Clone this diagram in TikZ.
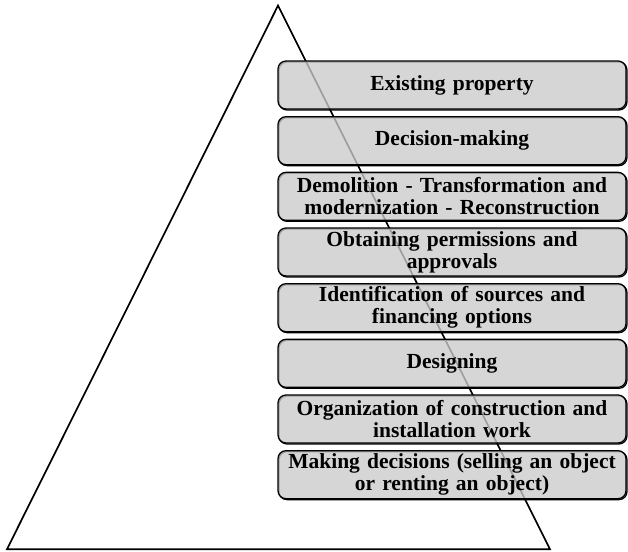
\documentclass[tikz,border=0pt]{standalone}
\usepackage{fontspec}
\setmainfont{Liberation Serif}
\usetikzlibrary{positioning,shadows}
\definecolor{boxgray}{HTML}{CBCBCB}
\tikzset{
	stage/.style={draw=black, line width=0.9pt, fill=boxgray, fill opacity=0.78, text opacity=1,
		rounded corners=0.2cm, minimum height=1.2cm, text width=8.5cm, inner xsep=0.1cm, inner ysep=1pt,
		align=center, font=\fontsize{15.3}{15.6}\selectfont\bfseries,
		general shadow={fill=none, draw=black, line width=0.9pt, shadow xshift=0.7pt, shadow yshift=-0.7pt}},
	pyramid/.style={line width=1.2pt, line join=miter}
}

\begin{document}
\begin{tikzpicture}
			%%%%% START %%%%%
			\useasboundingbox (0, 0) rectangle (15.7, 13.8);
			
			\coordinate (apex) at (6.95, 13.66);
			\coordinate (left) at (0.175, 0.07);
			\coordinate (right) at (13.75, 0.07);
			\draw[pyramid] (apex) -- (right) -- (left) -- cycle;
			
			\node[stage] (s1) at (11.3, 11.675) {Existing property};
			\node[stage, below=0.16cm of s1] (s2) {Decision-making};
			\node[stage, below=0.16cm of s2] (s3) {Demolition - Transformation and\\ modernization - Reconstruction};
			\node[stage, below=0.16cm of s3] (s4) {Obtaining permissions and\\ approvals};
			\node[stage, below=0.16cm of s4] (s5) {Identification of sources and\\ financing options};
			\node[stage, below=0.16cm of s5] (s6) {Designing};
			\node[stage, below=0.16cm of s6] (s7) {Organization of construction and\\ installation work};
			\node[stage, below=0.16cm of s7] (s8) {Making decisions (selling an object\\ or renting an object)};
			
			%%%%% END %%%%%
		\end{tikzpicture}
\end{document}
